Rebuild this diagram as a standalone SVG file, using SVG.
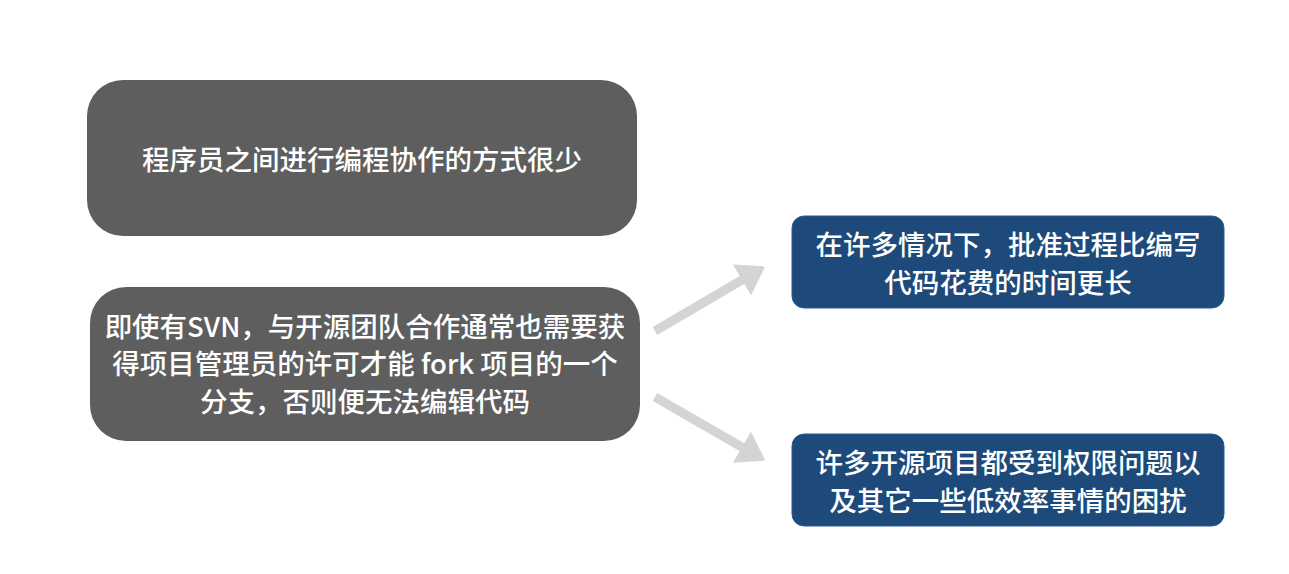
<svg xmlns="http://www.w3.org/2000/svg" width="1289" height="574" viewBox="0 0 1289 574">
  <defs>
    <style>
      .gray { fill: #5e5e5e; }
      .blue { fill: #1d4a7a; stroke: #2a5a8c; stroke-width: 1; }
      .txt { fill: #ffffff; font-family: "Noto Sans CJK SC", "Liberation Sans", sans-serif; font-size: 27.5px; font-weight: 500; text-anchor: middle; dominant-baseline: central; }
      .conn { stroke: #d4d4d4; stroke-width: 9; fill: none; }
    </style>
    <marker id="head" markerWidth="4" markerHeight="4" refX="2.2" refY="2" orient="auto" markerUnits="strokeWidth">
      <path d="M0,0 L3,2 L0,4 Z" fill="#d4d4d4"/>
    </marker>
  </defs>
  <rect width="1289" height="574" fill="#ffffff"/>

  <g id="connectors">
    <line class="conn" x1="655" y1="331" x2="759" y2="270" marker-end="url(#head)"/>
    <line class="conn" x1="655" y1="397" x2="759" y2="457" marker-end="url(#head)"/>
  </g>

  <g id="node-few-ways">
    <rect class="gray" x="87" y="80" width="550" height="156" rx="36"/>
    <text class="txt" x="362" y="158">程序员之间进行编程协作的方式很少</text>
  </g>

  <g id="node-svn">
    <rect class="gray" x="90" y="287" width="550" height="154" rx="36"/>
    <text class="txt" x="365" y="325">即使有SVN，与开源团队合作通常也需要获</text>
    <text class="txt" x="365" y="362">得项目管理员的许可才能 fork 项目的一个</text>
    <text class="txt" x="365" y="400">分支，否则便无法编辑代码</text>
  </g>

  <g id="node-approval">
    <rect class="blue" x="792" y="216" width="432" height="92" rx="12"/>
    <text class="txt" x="1008" y="243">在许多情况下，批准过程比编写</text>
    <text class="txt" x="1008" y="281">代码花费的时间更长</text>
  </g>

  <g id="node-permissions">
    <rect class="blue" x="792" y="434" width="432" height="92" rx="12"/>
    <text class="txt" x="1008" y="461">许多开源项目都受到权限问题以</text>
    <text class="txt" x="1008" y="499">及其它一些低效率事情的困扰</text>
  </g>
</svg>
